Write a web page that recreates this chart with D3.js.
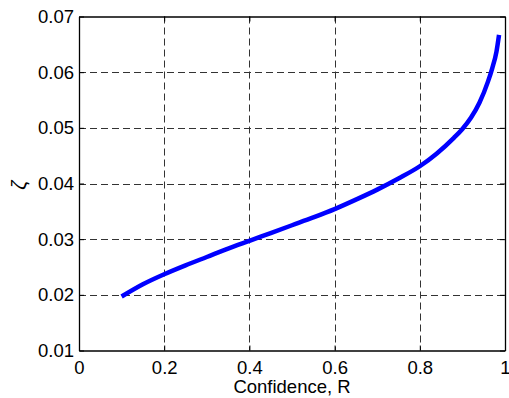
<!DOCTYPE html>
<html>
<head>
<meta charset="utf-8">
<script src="https://cdn.jsdelivr.net/npm/d3@7"></script>
<style>
  body { margin: 0; background: #fff; }
  text { font-family: Arial, "Liberation Sans", sans-serif; fill: #000; }
</style>
</head>
<body>
<svg width="509" height="398"></svg>
<script>

// confidence R vs zeta
var conf = [0.10, 0.15, 0.20, 0.25, 0.30, 0.35, 0.40, 0.45, 0.50, 0.55, 0.60,
            0.65, 0.70, 0.75, 0.80, 0.84, 0.88, 0.90, 0.92, 0.94, 0.96, 0.97, 0.98, 0.986];
var zeta = [0.0197, 0.0219, 0.0237, 0.0253, 0.0268, 0.0283, 0.0297, 0.0311, 0.0325, 0.0339, 0.0354,
            0.0371, 0.0389, 0.0409, 0.0431, 0.0454, 0.0482, 0.0498, 0.0518, 0.0545, 0.0583, 0.0607, 0.0637, 0.0667];

var xTicks = [0, 0.2, 0.4, 0.6, 0.8, 1];
var xTickLabels = ["0", "0.2", "0.4", "0.6", "0.8", "1"];
var yTicks = [0.01, 0.02, 0.03, 0.04, 0.05, 0.06, 0.07];
var yTickLabels = ["0.01", "0.02", "0.03", "0.04", "0.05", "0.06", "0.07"];

var svg = d3.select("svg"),
  pLeft = 79, pRight = 505, pTop = 16.5, pBottom = 350.5;

var x = d3.scaleLinear().domain([0, 1]).range([pLeft, pRight]);
var y = d3.scaleLinear().domain([0.01, 0.07]).range([pBottom, pTop]);

var points = conf.map(function(c, i) { return [c, zeta[i]]; });

// grid
var grid = svg.append("g").attr("class", "grid")
  .attr("stroke", "#333")
  .attr("stroke-width", 1)
  .attr("stroke-dasharray", "7,4");

grid.selectAll(".gx")
  .data(xTicks.slice(1, -1))
  .enter().append("line")
  .attr("x1", function(d) { return Math.round(x(d)) + 0.5; })
  .attr("x2", function(d) { return Math.round(x(d)) + 0.5; })
  .attr("y1", pTop)
  .attr("y2", pBottom);

grid.selectAll(".gy")
  .data(yTicks.slice(1, -1))
  .enter().append("line")
  .attr("y1", function(d) { return Math.round(y(d)) + 0.5; })
  .attr("y2", function(d) { return Math.round(y(d)) + 0.5; })
  .attr("x1", pLeft)
  .attr("x2", pRight);

// curve
var line = d3.line()
  .x(function(d) { return x(d[0]); })
  .y(function(d) { return y(d[1]); })
  .curve(d3.curveMonotoneX);

svg.append("path")
  .datum(points)
  .attr("fill", "none")
  .attr("stroke", "#0000ff")
  .attr("stroke-width", 4.5)
  .attr("d", line);

// axes (box with inward ticks)
var xAxis = d3.axisBottom(x).tickValues(xTicks)
  .tickFormat(function(d, i) { return xTickLabels[i]; })
  .tickSizeInner(-5).tickSizeOuter(0).tickPadding(12);
var yAxis = d3.axisLeft(y).tickValues(yTicks)
  .tickFormat(function(d, i) { return yTickLabels[i]; })
  .tickSizeInner(-5).tickSizeOuter(0).tickPadding(10);

var gx = svg.append("g").attr("transform", "translate(0," + pBottom + ")").call(xAxis);
var gy = svg.append("g").attr("transform", "translate(" + pLeft + ",0)").call(yAxis);
var gxTop = svg.append("g").attr("transform", "translate(0," + pTop + ")")
  .call(d3.axisTop(x).tickValues(xTicks).tickFormat("").tickSizeInner(-5).tickSizeOuter(0));
var gyRight = svg.append("g").attr("transform", "translate(" + pRight + ",0)")
  .call(d3.axisRight(y).tickValues(yTicks).tickFormat("").tickSizeInner(-5).tickSizeOuter(0));

[gx, gy, gxTop, gyRight].forEach(function(g) {
  g.selectAll("path").attr("stroke", "#000").attr("stroke-width", 1.3);
  g.selectAll("line").attr("stroke", "#000").attr("stroke-width", 1);
  g.selectAll("text").style("font-size", "18.5px").attr("fill", "#000");
});

gx.selectAll("text").attr("dy", "0.71em").attr("y", 10);
gy.selectAll("text").attr("x", -5);

// axis labels
svg.append("text")
  .attr("x", (pLeft + pRight) / 2)
  .attr("y", 393)
  .attr("text-anchor", "middle")
  .style("font-size", "18.5px")
  .text("Confidence, R");

svg.append("text")
  .attr("transform", "translate(26,185) rotate(-90)")
  .attr("text-anchor", "middle")
  .style("font-size", "20px")
  .style("font-style", "italic")
  .text("ζ");

</script>
</body>
</html>
